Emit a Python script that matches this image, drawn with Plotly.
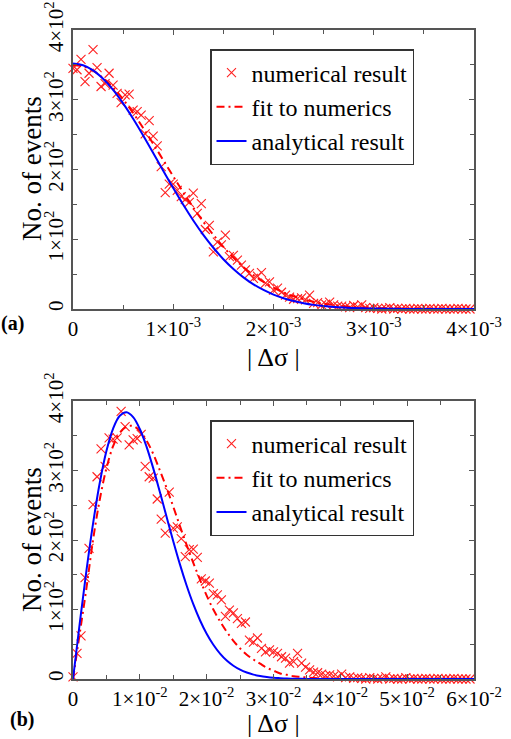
import numpy as np
import plotly.graph_objects as go

# ---------------- data: panel (a) ----------------
bin_width_a = 0.04e-3
counts_a = [345, 343, 358, 326, 338, 372, 346, 319, 323, 338,
            321, 309, 296, 307, 308, 285, 283, 278, 251, 270,
            248, 234, 204, 167, 179, 179, 170, 161, 157, 153,
            166, 137, 151, 114, 120, 82, 96, 92, 106, 75,
            77, 70, 63, 56, 51, 44, 47, 52, 37, 39,
            27, 30, 24, 20, 17, 14, 15, 16, 13, 20,
            8, 9, 6, 7, 10, 6, 4, 4, 3, 2,
            5, 3, 6, 2, 1, 2, 1, 0, 1, 2,
            0, 1, 0, 1, 0, 0, 1, 0, 0, 1,
            0, 0, 1, 0, 0, 0, 1, 0, 0, 0]
bins_a = np.arange(len(counts_a)) * bin_width_a

curve_x_a = [0, 0.1e-3, 0.2e-3, 0.3e-3, 0.4e-3, 0.5e-3, 0.6e-3, 0.7e-3, 0.8e-3, 0.9e-3,
             1.0e-3, 1.1e-3, 1.2e-3, 1.3e-3, 1.4e-3, 1.5e-3, 1.6e-3, 1.7e-3, 1.8e-3, 1.9e-3,
             2.0e-3, 2.1e-3, 2.2e-3, 2.3e-3, 2.4e-3, 2.5e-3, 2.6e-3, 2.7e-3, 2.8e-3, 2.9e-3,
             3.0e-3, 3.2e-3, 3.4e-3, 3.6e-3, 3.8e-3, 4.0e-3]
fit_a = [350, 347.9, 341.6, 331.3, 317.5, 300.5, 281.0, 259.6, 236.9, 213.5,
         190.1, 167.2, 145.4, 125.0, 106.3, 89.0, 73.7, 60.2, 48.6, 38.8,
         30.6, 23.8, 18.3, 13.9, 10.4, 7.7, 5.7, 4.1, 2.9, 2.1,
         1.4, 0.7, 0.3, 0.1, 0.0, 0.0]
analytic_a = [352, 349.5, 342.2, 330.2, 314.3, 294.9, 272.8, 248.8, 223.7, 198.3,
              173.4, 149.4, 126.9, 106.3, 87.8, 71.4, 57.4, 45.4, 35.4, 27.3,
              20.7, 15.5, 11.4, 8.3, 5.9, 4.2, 2.9, 2.0, 1.4, 0.9,
              0.6, 0.2, 0.1, 0.0, 0.0, 0.0]

# ---------------- data: panel (b) ----------------
bin_width_b = 0.0006
counts_b = [3, 37, 62, 146, 188, 251, 291, 331, 306, 347,
            345, 347, 385, 363, 337, 344, 346, 352, 306, 291,
            289, 259, 230, 210, 269, 217, 219, 202, 176, 186,
            187, 175, 144, 141, 138, 123, 121, 114, 90, 99,
            95, 87, 80, 82, 56, 53, 59, 44, 39, 42,
            39, 37, 32, 30, 23, 25, 37, 23, 17, 13,
            10, 9, 7, 5, 6, 4, 3, 7, 2, 3,
            1, 2, 1, 0, 2, 1, 0, 1, 3, 0,
            1, 0, 0, 2, 0, 1, 0, 0, 1, 0,
            0, 1, 0, 0, 0, 1, 0, 0, 0, 0]
bins_b = np.arange(len(counts_b)) * bin_width_b

curve_x_b = [0, 0.001, 0.002, 0.003, 0.004, 0.005, 0.006, 0.007, 0.008, 0.009,
             0.010, 0.011, 0.012, 0.013, 0.014, 0.015, 0.016, 0.017, 0.018, 0.019,
             0.020, 0.021, 0.022, 0.023, 0.024, 0.025, 0.026, 0.027, 0.028, 0.029,
             0.030, 0.031, 0.032, 0.033, 0.034, 0.036, 0.038, 0.040, 0.045, 0.050, 0.060]
fit_b = [0, 65, 130, 200, 258, 303, 335, 354, 363, 364,
         357, 343, 324, 300, 275, 248, 220, 193, 167, 143,
         120, 100, 83, 68, 55, 44, 35, 28, 22, 16,
         12, 8, 6, 4, 3, 1.5, 0.6, 0.2, 0, 0, 0]
analytic_b = [0, 79.5, 155.2, 223.7, 282.0, 328.0, 360.4, 378.8, 383.9, 376.9,
              359.7, 334.4, 303.4, 269.0, 233.4, 198.2, 164.9, 134.5, 107.6, 84.5,
              65.0, 49.2, 36.5, 26.6, 19.1, 13.4, 9.3, 6.3, 4.2, 2.8,
              1.8, 1.2, 0.7, 0.4, 0.25, 0.1, 0.0, 0.0, 0.0, 0.0, 0.0]

# ---------------- tick labels ----------------
xtick_vals_a = [0, 1e-3, 2e-3, 3e-3, 4e-3]
xtick_text_a = ["0", "1×10<sup>-3</sup>", "2×10<sup>-3</sup>", "3×10<sup>-3</sup>", "4×10<sup>-3</sup>"]
xtick_vals_b = [0, 0.01, 0.02, 0.03, 0.04, 0.05, 0.06]
xtick_text_b = ["0", "1×10<sup>-2</sup>", "2×10<sup>-2</sup>", "3×10<sup>-2</sup>",
                "4×10<sup>-2</sup>", "5×10<sup>-2</sup>", "6×10<sup>-2</sup>"]
ytick_vals = [0, 100, 200, 300, 400]
ytick_text = ["0", "1×10<sup>2</sup>", "2×10<sup>2</sup>", "3×10<sup>2</sup>", "4×10<sup>2</sup>"]

labels = ["numerical result", "fit to numerics", "analytical result"]

W, H = 511, 739
FONT = "Liberation Serif"
AXC = "#555555"

fig = go.Figure()

def add_panel(xb, yb, cx, fit, ana, xa, ya, leg):
    fig.add_trace(go.Scatter(x=xb, y=yb, mode="markers", name=labels[0],
                             marker=dict(symbol="x-thin-open", size=9, color="#ff2020",
                                         line=dict(width=1.1, color="#ff2020")),
                             xaxis=xa, yaxis=ya, legend=leg, cliponaxis=False))
    fig.add_trace(go.Scatter(x=cx, y=fit, mode="lines", name=labels[1], line_shape="spline",
                             line=dict(color="#ff0000", width=2, dash="8px,4px,2px,4px"),
                             xaxis=xa, yaxis=ya, legend=leg))
    fig.add_trace(go.Scatter(x=cx, y=ana, mode="lines", name=labels[2], line_shape="spline",
                             line=dict(color="#0000ff", width=2),
                             xaxis=xa, yaxis=ya, legend=leg))

add_panel(bins_a, counts_a, curve_x_a, fit_a, analytic_a, "x", "y", "legend")
add_panel(bins_b, counts_b, curve_x_b, fit_b, analytic_b, "x2", "y2", "legend2")

def px_x(p):
    return p / W

def px_y(p):
    return 1 - p / H

xdom = [px_x(73), px_x(474)]
common_ax = dict(showline=True, linecolor=AXC, linewidth=1.5, mirror="ticks",
                 ticks="inside", ticklen=5, tickwidth=1.2, tickcolor=AXC,
                 showgrid=False, zeroline=False, tickmode="array", automargin=False,
                 tickfont=dict(family=FONT, size=21, color="black"))

def minor(dt):
    return dict(ticks="inside", dtick=dt, tick0=0, ticklen=4, tickwidth=1.2,
                tickcolor=AXC, showgrid=False)

leg_common = dict(xanchor="left", yanchor="top",
                  bgcolor="white", bordercolor="#333333", borderwidth=1.5,
                  font=dict(family=FONT, size=24, color="black"),
                  tracegroupgap=0, itemwidth=30)

fig.update_layout(
    width=W, height=H, margin=dict(l=0, r=0, t=0, b=0, autoexpand=False),
    paper_bgcolor="white", plot_bgcolor="white",
    font=dict(family=FONT, color="black"),
    xaxis=dict(domain=xdom, range=[0, 4e-3], anchor="y", tickangle=0,
               tickvals=xtick_vals_a, ticktext=xtick_text_a, minor=minor(0.5e-3), **common_ax),
    yaxis=dict(domain=[px_y(309), px_y(30)], range=[0, 400], anchor="x",
               tickvals=ytick_vals, ticktext=ytick_text, tickangle=-90, minor=minor(50), **common_ax),
    xaxis2=dict(domain=xdom, range=[0, 0.06], anchor="y2", tickangle=0,
                tickvals=xtick_vals_b, ticktext=xtick_text_b, minor=minor(0.005), **common_ax),
    yaxis2=dict(domain=[px_y(679), px_y(401)], range=[0, 400], anchor="x2",
                tickvals=ytick_vals, ticktext=ytick_text, tickangle=-90, minor=minor(50), **common_ax),
    legend=dict(x=px_x(210), y=px_y(49), **leg_common),
    legend2=dict(x=px_x(210), y=px_y(420), **leg_common),
)

annots = [
    dict(text="No. of events", x=px_x(32), y=px_y(169), textangle=-90, size=27),
    dict(text="No. of events", x=px_x(32), y=px_y(540), textangle=-90, size=27),
    dict(text="| Δσ |", x=px_x(273), y=px_y(357), textangle=0, size=26),
    dict(text="| Δσ |", x=px_x(273), y=px_y(723), textangle=0, size=26),
    dict(text="<b>(a)</b>", x=px_x(12), y=px_y(323), textangle=0, size=20),
    dict(text="<b>(b)</b>", x=px_x(22), y=px_y(719), textangle=0, size=20),
]
for a in annots:
    fig.add_annotation(text=a["text"], x=a["x"], y=a["y"], xref="paper", yref="paper",
                       xanchor="center", yanchor="middle", showarrow=False,
                       textangle=a["textangle"],
                       font=dict(family=FONT, size=a["size"], color="black"))

fig.write_html("out.html", config={"displayModeBar": False},
               post_script="document.body.style.margin='0';document.body.style.padding='0';")
